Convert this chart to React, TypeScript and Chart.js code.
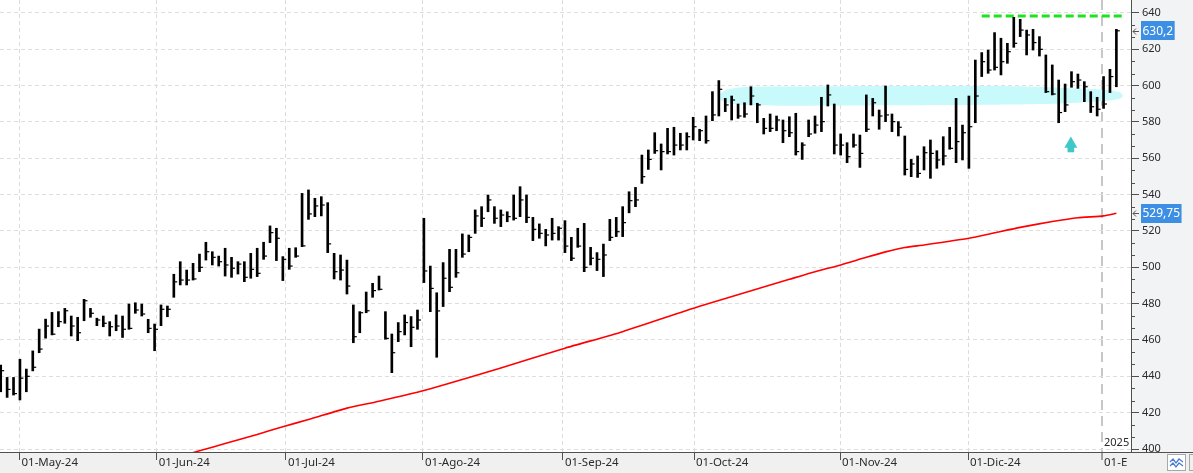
import React, { useEffect, useRef } from 'react';
import { Chart, registerables } from 'chart.js';

Chart.register(...registerables);

// ---- Data (daily HLC bars) ----
const highs = [
  446.2, 439.4, 439.4, 449.4, 444.0, 454.0, 466.0, 471.5, 475.2, 475.6,
  477.4, 473.2, 472.5, 482.4, 477.4, 472.0, 473.2, 470.1, 473.8, 473.2,
  479.8, 480.5, 479.8, 471.4, 468.8, 479.3, 478.7,
  496.2, 503.1, 498.5, 502.2, 507.3, 513.8, 508.6, 506.2, 510.5, 505.5,
  503.1, 503.1, 507.7, 510.5, 513.8, 522.8, 521.5, 505.9, 510.5, 510.8,
  540.7, 542.6, 538.0, 538.9, 535.6, 507.7, 506.8, 504.0, 479.3, 475.6,
  486.4, 491.2, 495.2, 475.6, 463.3, 469.6, 473.8, 472.9, 476.5, 527.0,
  500.7, 486.0, 502.6, 509.9, 509.9, 518.4, 517.8, 531.6, 533.4, 539.8,
  533.4, 531.6, 530.6, 539.8, 544.4, 539.8, 527.5, 523.9, 520.9, 527.0, 522.4,
  525.7, 516.5, 521.5, 524.2, 511.0, 508.1, 512.8, 526.4, 527.5, 533.4,
  541.6, 544.0, 561.8, 564.6, 574.1, 567.9, 576.5, 577.1, 573.8, 574.1,
  582.6, 576.0, 583.3, 596.7, 602.8, 593.0, 594.3, 589.9, 590.6, 599.4,
  590.3, 582.0, 584.4, 583.3, 581.1, 582.9, 584.8, 568.6, 581.1, 583.3,
  593.6, 600.4, 589.9, 573.4, 568.6, 573.4, 572.8, 594.9, 593.0, 586.6,
  599.8, 584.4, 580.2, 572.3, 559.4, 561.3, 566.4, 570.1, 564.2, 571.9,
  577.1, 593.0, 578.3, 594.3, 614.1, 618.2, 619.6, 629.2, 626.1, 623.3,
  637.6, 636.5, 630.6, 631.0, 627.0, 616.9, 611.4, 603.1, 600.9, 607.7,
  606.4, 602.2, 596.7, 593.6, 605.0, 609.0, 631.0,
];
const lows = [
  431.5, 428.4, 429.7, 427.0, 431.5, 443.0, 453.0, 461.0, 462.8, 467.3,
  469.2, 462.2, 459.6, 470.6, 472.5, 467.9, 467.3, 462.2, 465.1, 461.4,
  465.9, 474.7, 473.2, 464.0, 454.1, 467.9, 472.8,
  483.5, 490.3, 490.3, 493.0, 497.6, 504.0, 501.3, 500.7, 495.2, 494.5,
  496.3, 492.1, 494.0, 494.9, 504.4, 513.6, 503.7, 492.7, 498.9, 505.5,
  511.4, 526.4, 527.9, 528.3, 508.1, 493.6, 493.0, 485.3, 458.5, 464.0,
  475.0, 483.5, 487.5, 460.4, 442.0, 459.1, 462.8, 456.3, 465.9, 491.6,
  475.6, 450.5, 478.4, 486.6, 494.5, 505.5, 508.6, 518.7, 522.4, 530.6,
  524.2, 522.4, 525.1, 526.0, 527.9, 524.6, 514.7, 516.0, 511.8, 515.0, 515.0,
  508.1, 503.7, 511.0, 497.6, 501.3, 498.2, 494.9, 514.7, 516.9, 516.9,
  530.0, 533.4, 546.2, 553.9, 562.7, 553.6, 562.4, 561.8, 564.6, 564.6,
  570.1, 569.7, 568.3, 580.7, 583.3, 585.7, 581.1, 582.0, 582.6, 589.4,
  579.6, 573.4, 574.7, 575.2, 568.6, 571.9, 561.8, 559.4, 571.9, 573.8,
  574.7, 588.8, 562.4, 561.8, 557.6, 566.1, 555.0, 574.7, 583.3, 576.0,
  580.2, 574.7, 572.3, 550.8, 549.9, 549.5, 553.6, 549.0, 554.5, 556.3,
  565.0, 557.6, 559.1, 554.5, 579.6, 605.0, 606.8, 608.6, 605.9, 612.3,
  621.1, 627.0, 616.9, 619.6, 616.3, 596.2, 594.9, 579.6, 585.7, 599.1,
  598.5, 591.2, 585.2, 583.3, 587.5, 596.2, 599.4,
];
const closes = [
  443.1, 432.8, 430.5, 439.0, 440.0, 445.0, 455.0, 467.7, 463.2, 470.1,
  476.1, 467.7, 464.0, 481.6, 474.7, 471.0, 469.2, 467.3, 467.7, 465.9,
  466.4, 476.5, 474.3, 466.4, 465.9, 476.9, 476.9,
  492.0, 493.0, 493.0, 493.6, 500.0, 508.6, 505.5, 503.1, 501.3, 499.5,
  501.8, 494.5, 498.9, 496.7, 506.2, 519.1, 516.0, 504.4, 500.7, 506.2,
  511.8, 529.4, 533.8, 534.3, 512.9, 497.6, 498.5, 489.7, 461.8, 475.0,
  476.1, 487.2, 487.9, 460.9, 453.0, 464.6, 469.6, 467.0, 471.0, 498.0,
  488.4, 476.0, 494.0, 489.0, 497.0, 507.3, 516.5, 528.3, 527.0, 537.1,
  527.0, 528.8, 527.9, 527.0, 537.1, 527.5, 520.9, 518.7, 517.8, 518.7, 521.5,
  511.7, 505.0, 511.7, 500.0, 505.0, 504.4, 506.8, 516.5, 519.6, 524.6,
  536.7, 537.1, 549.9, 559.4, 564.2, 563.7, 563.7, 567.3, 567.3, 571.9,
  577.4, 575.2, 569.7, 583.9, 598.0, 589.4, 592.1, 583.3, 584.4, 594.3,
  589.4, 576.5, 576.5, 581.1, 575.2, 574.1, 563.7, 567.3, 573.4, 578.3,
  580.2, 594.9, 567.3, 567.3, 560.9, 567.3, 562.7, 576.0, 590.6, 583.3,
  583.9, 580.2, 577.1, 553.9, 556.9, 551.7, 563.1, 562.7, 559.1, 561.3,
  565.5, 569.2, 574.1, 577.4, 594.3, 613.2, 608.6, 610.1, 613.2, 618.7,
  623.3, 630.6, 627.9, 623.7, 620.0, 596.7, 595.4, 585.2, 589.4, 602.2,
  603.1, 599.4, 588.4, 587.0, 589.9, 605.0, 630.2,
];

// Month tick positions (in bar-index units) and their labels
const monthTickPos = [2.93, 24.34, 44.49, 65.86, 87.69, 108.13, 130.9, 150.86, 171.76];
const monthLabels = ['01-May-24', '01-Jun-24', '01-Jul-24', '01-Ago-24', '01-Sep-24', '01-Oct-24', '01-Nov-24', '01-Dic-24', '01-E'];
const yearLabel = '2025';
const yTickValues = [400, 420, 440, 460, 480, 500, 520, 540, 560, 580, 600, 620, 640];

// Moving average (red line), sampled by bar index
const maIndex = [20, 31, 35, 40, 44, 48, 54, 59, 66, 78, 88, 97, 109, 123, 127, 131, 135, 138, 141, 144, 151, 155, 159, 164, 168, 172, 174];
const maValues = [388, 399, 403, 408, 412.3, 416.2, 422.5, 426.3, 432.2, 444.6, 455.5, 464.6, 478.6, 493.4, 497.6, 501.3, 505.5, 508.5, 510.9, 512.3, 516, 519, 522, 525.2, 527.3, 528.3, 529.75];

// Support zone (cyan band)
const bandIndex = [112.2, 113.5, 116, 125, 140, 150, 160, 168, 172, 174.5, 175.1];
const bandTop = [595.8, 598, 599.3, 599.6, 599.8, 599.8, 599.6, 598.5, 597.8, 596.5, 594.3];
const bandBottom = [592.1, 590.5, 589.4, 589.0, 589.2, 589.3, 589.7, 590.6, 591.5, 592.8, 594.3];

// Resistance (green dashed line)
const resistanceLevel = 638.3;
const resistanceFrom = 153.0;
const resistanceTo = 174.9;

// Up arrow marker
const arrowIndex = 166.9;
const arrowHeadValue = 567.9;
const arrowStem = [563.5, 566.3];

const lastClose = 630.2;
const lastMA = 529.75;

const fmt = (v: number) => String(v).replace('.', ',');

const decorPlugin = {
  id: 'decor',
  beforeDraw(chart: any) {
    const { ctx, chartArea: a, width, height } = chart;
    ctx.save();
    ctx.fillStyle = '#f2f3f5';
    ctx.fillRect(0, 0, width, height);
    ctx.fillStyle = '#f0f0f0';
    ctx.fillRect(0, a.bottom, width, height - a.bottom);
    ctx.fillStyle = '#ffffff';
    ctx.fillRect(a.left, a.top, a.right - a.left, a.bottom - a.top);
    ctx.restore();
  },
  afterDraw(chart: any) {
    const { ctx, chartArea: a, width, height, scales } = chart;
    const ys = scales.y;
    const xs = scales.x;
    ctx.save();
    // bottom strip under the price axis
    ctx.fillStyle = '#f0f0f0';
    ctx.fillRect(a.right + 1, a.bottom, width - a.right, height - a.bottom);
    ctx.strokeStyle = '#505050';
    ctx.lineWidth = 1;
    ctx.beginPath();
    ctx.moveTo(a.right, Math.round(a.bottom) + 0.5);
    ctx.lineTo(width, Math.round(a.bottom) + 0.5);
    ctx.stroke();
    // minor ticks on price axis
    ctx.beginPath();
    for (let k = 0; k <= 36; k++) {
      if (k % 3 === 0) continue;
      const v = 400 + (k * 20) / 3;
      const py = Math.round(ys.getPixelForValue(v)) + 0.5;
      if (py < a.top || py > a.bottom) continue;
      ctx.moveTo(a.right, py);
      ctx.lineTo(a.right + 4, py);
    }
    ctx.stroke();

    // price tags
    const tag = (value: number) => {
      const py = ys.getPixelForValue(value);
      const text = fmt(value);
      ctx.font = '12px "Noto Sans", sans-serif';
      const w = ctx.measureText(text).width + 3;
      const bx = a.right + 10;
      ctx.fillStyle = '#3d8fe3';
      ctx.fillRect(bx, Math.round(py - 9.5), w, 19);
      ctx.fillStyle = '#ffffff';
      ctx.textBaseline = 'middle';
      ctx.textAlign = 'left';
      ctx.fillText(text, bx + 1.5, py + 0.5);
      // little arrow pointing to the axis
      ctx.strokeStyle = '#555';
      ctx.lineWidth = 1;
      const ay = Math.round(py) + 0.5;
      ctx.beginPath();
      ctx.moveTo(a.right + 2, ay);
      ctx.lineTo(a.right + 8, ay);
      ctx.moveTo(a.right + 2, ay);
      ctx.lineTo(a.right + 5, ay - 3);
      ctx.moveTo(a.right + 2, ay);
      ctx.lineTo(a.right + 5, ay + 3);
      ctx.stroke();
    };
    tag(lastClose);
    tag(lastMA);

    // year label next to the January grid line
    const jx = xs.getPixelForValue(monthTickPos[monthTickPos.length - 1]);
    ctx.font = '11px "Noto Sans", sans-serif';
    ctx.fillStyle = '#2b2b2b';
    ctx.textBaseline = 'middle';
    ctx.textAlign = 'left';
    ctx.fillText(yearLabel, jx + 2, a.bottom - 9);

    // small icon boxes at the bottom right
    ctx.fillStyle = '#ffffff';
    ctx.fillRect(1167.5, 454.5, 18, 16);
    ctx.strokeStyle = '#a8a8a8';
    ctx.strokeRect(1167.5, 454.5, 18, 16);
    ctx.strokeRect(1189.5, 454.5, 18, 16);
    ctx.strokeStyle = '#4a7fd0';
    ctx.lineWidth = 1.3;
    ctx.beginPath();
    ctx.moveTo(1170, 462); ctx.lineTo(1173, 459); ctx.lineTo(1176, 463); ctx.lineTo(1179, 459); ctx.lineTo(1183, 462);
    ctx.moveTo(1170, 466); ctx.lineTo(1173, 463); ctx.lineTo(1176, 467); ctx.lineTo(1179, 463); ctx.lineTo(1183, 466);
    ctx.stroke();
    ctx.restore();
  },
};

export default function App() {
  const ref = useRef<HTMLCanvasElement | null>(null);

  useEffect(() => {
    if (!ref.current) return;
    Chart.defaults.font.family = '"Noto Sans", sans-serif';
    const hl = highs.map((h, i) => ({ x: i, y: [lows[i], h] }));
    const cl = closes.map((c, i) => ({ x: i + 0.3, y: c }));
    const ma = maIndex.map((x, i) => ({ x, y: maValues[i] }));
    const bTop = bandIndex.map((x, i) => ({ x, y: bandTop[i] }));
    const bBot = bandIndex.map((x, i) => ({ x, y: bandBottom[i] }));
    const lastIdx = monthTickPos.length - 1;

    const chart = new Chart(ref.current, {
      type: 'line',
      data: {
        datasets: [
          {
            type: 'bar',
            data: hl as any,
            backgroundColor: '#000000',
            borderWidth: 0,
            barThickness: 2,
            grouped: false,
            order: 1,
          } as any,
          {
            type: 'scatter',
            data: cl,
            pointStyle: 'line',
            pointRadius: 1.5,
            pointBorderWidth: 1.2,
            pointBorderColor: '#000000',
            pointBackgroundColor: '#000000',
            showLine: false,
            order: 0,
          } as any,
          {
            type: 'line',
            data: ma,
            borderColor: '#ff0000',
            borderWidth: 1.6,
            pointRadius: 0,
            tension: 0.2,
            order: 4,
          } as any,
          {
            type: 'line',
            data: bBot,
            borderColor: 'rgba(0,0,0,0)',
            borderWidth: 0,
            pointRadius: 0,
            fill: false,
            tension: 0.3,
            order: 10,
          } as any,
          {
            type: 'line',
            data: bTop,
            borderColor: 'rgba(0,0,0,0)',
            borderWidth: 0,
            pointRadius: 0,
            backgroundColor: '#c8fafb',
            fill: '-1',
            tension: 0.3,
            order: 9,
          } as any,
          {
            type: 'line',
            data: [
              { x: resistanceFrom, y: resistanceLevel },
              { x: resistanceTo, y: resistanceLevel },
            ],
            borderColor: '#1fe21f',
            borderWidth: 3,
            borderDash: [8, 4],
            pointRadius: 0,
            order: 3,
          } as any,
          {
            type: 'bar',
            data: [{ x: arrowIndex, y: arrowStem }] as any,
            backgroundColor: '#3ec8c8',
            borderWidth: 0,
            barThickness: 6,
            grouped: false,
            order: 2,
          } as any,
          {
            type: 'scatter',
            data: [{ x: arrowIndex, y: arrowHeadValue }],
            pointStyle: 'triangle',
            pointRadius: 7.5,
            pointBorderWidth: 0,
            pointBackgroundColor: '#3ec8c8',
            pointBorderColor: '#3ec8c8',
            order: 2,
          } as any,
        ],
      },
      options: {
        animation: false,
        responsive: false,
        devicePixelRatio: 1,
        events: [],
        layout: { padding: 0, autoPadding: false },
        plugins: { legend: { display: false }, tooltip: { enabled: false } },
        scales: {
          x: {
            type: 'linear',
            min: -0.11,
            max: 176.28,
            offset: false,
            afterBuildTicks: (axis: any) => {
              axis.ticks = monthTickPos.map((v) => ({ value: v }));
            },
            afterFit: (axis: any) => {
              axis.height = 21;
              axis.paddingLeft = 0;
              axis.paddingRight = 0;
            },
            ticks: {
              callback: (_v: any, i: number) => monthLabels[i],
              align: 'start',
              labelOffset: 2,
              padding: -4,
              autoSkip: false,
              maxRotation: 0,
              minRotation: 0,
              color: '#2b2b2b',
              font: { size: 11.5 },
            },
            grid: {
              offset: false,
              color: (c: any) => (c.index === lastIdx ? '#c6c6c6' : '#dcdcdc'),
              lineWidth: (c: any) => (c.index === lastIdx ? 2 : 1),
              tickColor: '#505050',
              tickLength: 8,
              tickWidth: 1,
            },
            border: {
              display: true,
              color: '#505050',
              width: 1,
              dash: (c: any) => (c.index === lastIdx ? [10, 6] : [4, 3]),
            },
          } as any,
          y: {
            type: 'linear',
            position: 'right',
            min: 398.35,
            max: 647.15,
            afterBuildTicks: (axis: any) => {
              axis.ticks = yTickValues.map((v) => ({ value: v }));
            },
            afterFit: (axis: any) => {
              axis.width = 62;
              axis.paddingTop = 0;
              axis.paddingBottom = 0;
            },
            ticks: {
              callback: (v: any) => String(v),
              padding: 3,
              color: '#2b2b2b',
              font: { size: 11 },
            },
            grid: {
              color: '#dedede',
              lineWidth: 1,
              tickColor: '#505050',
              tickLength: 8,
            },
            border: {
              display: true,
              color: '#505050',
              width: 1,
              dash: [4, 3],
            },
          } as any,
        },
      },
      plugins: [decorPlugin],
    } as any);

    return () => chart.destroy();
  }, []);

  return (
    <div style={{ position: 'absolute', left: 0, top: 0, width: 1193, height: 473 }}>
      <canvas ref={ref} width={1193} height={473} style={{ display: 'block', width: 1193, height: 473 }} />
    </div>
  );
}
